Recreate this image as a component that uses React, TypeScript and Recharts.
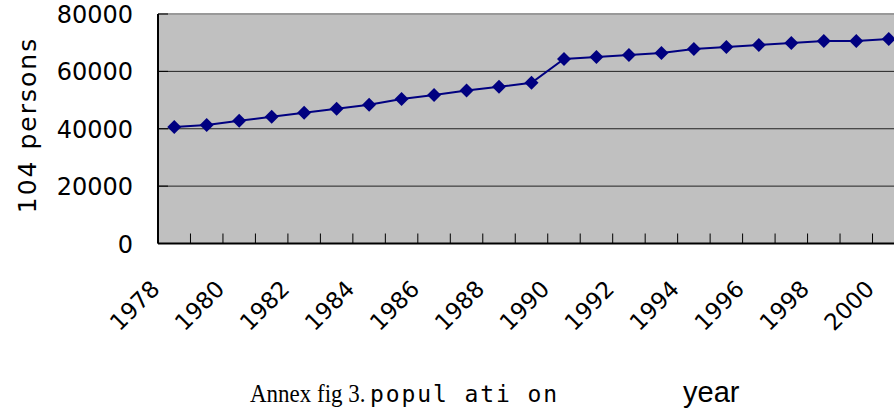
import React from 'react';
import { LineChart, Line, XAxis, YAxis, CartesianGrid, ReferenceLine } from 'recharts';

// population, unit 10^4 persons
const years = [
  1978, 1979, 1980, 1981, 1982, 1983, 1984, 1985, 1986, 1987, 1988, 1989,
  1990, 1991, 1992, 1993, 1994, 1995, 1996, 1997, 1998, 1999, 2000,
];
const population = [
  40600, 41300, 42800, 44200, 45600, 47000, 48400, 50400, 51800, 53300, 54600, 56000,
  64300, 65000, 65700, 66400, 67800, 68500, 69200, 69900, 70600, 70600, 71300,
];
const labelYears = [1978, 1980, 1982, 1984, 1986, 1988, 1990, 1992, 1994, 1996, 1998, 2000];
const yTicks = [0, 20000, 40000, 60000, 80000];

const data = years.map((year, i) => ({ idx: i, year, population: population[i] }));
// tick marks sit between categories, like Excel
const xTicks = years.map((_, i) => i - 0.5);

const NAVY = '#000080';
const SANS = '"DejaVu Sans", sans-serif';

function XTick(props: any) {
  const { x, y, payload } = props;
  const year = years[Math.round(payload.value + 0.5)];
  const lx = x + 3;
  const ly = y + 47;
  return (
    <g>
      <line x1={x} y1={y} x2={x} y2={y - 10} stroke="#000" strokeWidth={1} />
      {labelYears.includes(year) && (
        <text
          x={lx}
          y={ly}
          textAnchor="end"
          transform={`rotate(-45 ${lx} ${ly})`}
          fontFamily={SANS}
          fontSize={23}
          fill="#000"
        >
          {year}
        </text>
      )}
    </g>
  );
}

function YTick(props: any) {
  const { x, y, payload } = props;
  return (
    <g>
      <line x1={x} y1={y} x2={x + 10} y2={y} stroke="#000" strokeWidth={1} />
      <text x={x - 25} y={y + 9} textAnchor="end" fontFamily={SANS} fontSize={24} fill="#000">
        {payload.value}
      </text>
    </g>
  );
}

function renderDiamond(props: any) {
  const { cx, cy, index } = props;
  const r = 7;
  return (
    <polygon
      key={index}
      points={`${cx},${cy - r} ${cx + r},${cy} ${cx},${cy + r} ${cx - r},${cy}`}
      fill={NAVY}
    />
  );
}

export default function App() {
  return (
    <div
      style={{
        position: 'fixed',
        left: 0,
        top: 0,
        width: 894,
        height: 417,
        overflow: 'hidden',
        background: '#fff',
      }}
    >
      <div style={{ position: 'absolute', left: 0, top: 0 }}>
        <LineChart
          width={920}
          height={417}
          data={data}
          margin={{ top: 14, right: 15, bottom: 113.5, left: 0 }}
        >
          <CartesianGrid vertical={false} fill="#c0c0c0" stroke="#222" />
          <XAxis
            dataKey="idx"
            type="number"
            domain={[-0.5, 22.5]}
            ticks={xTicks}
            interval={0}
            height={60}
            tickSize={0}
            tickMargin={0}
            tickLine={false}
            axisLine={{ stroke: '#000', strokeWidth: 2 }}
            tick={<XTick />}
          />
          <YAxis
            domain={[0, 80000]}
            ticks={yTicks}
            interval={0}
            width={158}
            tickSize={0}
            tickMargin={0}
            tickLine={false}
            axisLine={{ stroke: '#000', strokeWidth: 2 }}
            tick={<YTick />}
          />
          <ReferenceLine y={80000} stroke="#999" strokeWidth={2} />
          <Line
            type="linear"
            dataKey="population"
            stroke={NAVY}
            strokeWidth={2}
            dot={renderDiamond}
            activeDot={false}
            isAnimationActive={false}
          />
        </LineChart>
      </div>
      <svg
        width={894}
        height={417}
        style={{ position: 'absolute', left: 0, top: 0, pointerEvents: 'none' }}
      >
        <text
          transform="translate(36 125) rotate(-90)"
          textAnchor="middle"
          fontFamily={SANS}
          fontSize={25}
          letterSpacing={2}
          fill="#000"
        >
          104 persons
        </text>
        <text
          transform="translate(250 402) scale(1 1.12)"
          fontFamily='"Liberation Serif", serif'
          fontSize={23}
          fill="#000"
        >
          Annex fig 3.
        </text>
        <text
          x={370}
          y={402}
          fontFamily='"DejaVu Sans Mono", monospace'
          fontSize={23}
          letterSpacing={1.9}
          fill="#000"
        >
          popul ati on
        </text>
        <text x={683} y={402} fontFamily='"Liberation Sans", sans-serif' fontSize={29} fill="#000">
          year
        </text>
      </svg>
    </div>
  );
}
